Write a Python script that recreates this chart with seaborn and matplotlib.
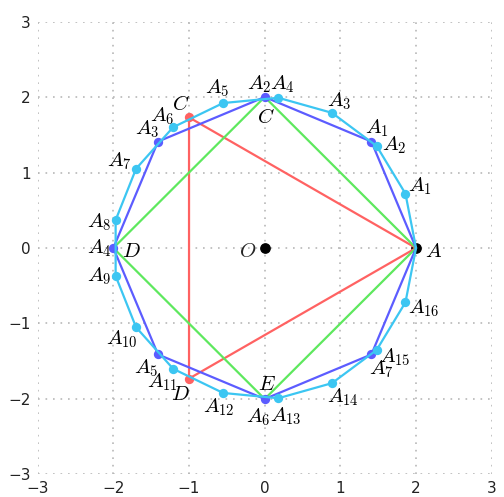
import matplotlib
matplotlib.use("Agg")
import pandas as pd
import matplotlib.pyplot as plt
import seaborn as sns

# Points
# 17-gon: A, A1 ... A16
p17_x = [2.0, 1.86, 1.48, 0.89, 0.18, -0.55, -1.21, -1.70, -1.97,
         -1.97, -1.70, -1.21, -0.55, 0.18, 0.89, 1.48, 1.86]
p17_y = [0.0, 0.72, 1.35, 1.79, 1.99, 1.92, 1.60, 1.05, 0.37,
         -0.37, -1.05, -1.60, -1.92, -1.99, -1.79, -1.35, -0.72]
p17_names = ["A"] + ["A_{%d}" % i for i in range(1, 17)]

# octagon: A, A1 ... A7
oct_x = [2.0, 1.41, 0.0, -1.41, -2.0, -1.41, 0.0, 1.41]
oct_y = [0.0, 1.41, 2.0, 1.41, 0.0, -1.41, -2.0, -1.41]
oct_names = ["A"] + ["A_{%d}" % i for i in range(1, 8)]

# square: A, C, D, E
sq_x = [2.0, 0.0, -2.0, 0.0]
sq_y = [0.0, 2.0, 0.0, -2.0]
sq_names = ["A", "C", "D", "E"]

# triangle: A, C, D
tri_x = [2.0, -1.0, -1.0]
tri_y = [0.0, 1.73, -1.73]
tri_names = ["A", "C", "D"]

ticks = [-3, -2, -1, 0, 1, 2, 3]

# label offsets in pixels (dx, dy) for each vertex label, None = no label
p17_off = [None, (3, 2), (5, -4), (-5, 6), (-8, 8), (-18, 10), (-23, 6), (-29, 2), (-29, -7),
           (-29, -6), (-30, -17), (-26, -19), (-20, -20), (-8, -23), (-5, -19), (2, -13), (3, -11)]
oct_off = [None, (-6, 8), (-18, 8), (-23, 7), (-26, -5), (-24, -19), (-19, -23), (-2, -20)]
sq_off = [(9, -9), (-8, -26), (9, -9), (-7, 9)]
tri_off = [None, (-17, 7), (-18, -21)]

sns.set_style("white")
plt.rcParams["mathtext.fontset"] = "cm"

fig = plt.figure(figsize=(5.04, 4.97), dpi=100)
ax = fig.add_axes([0.0748, 0.0453, 0.9008, 0.9114])


def draw_poly(xs, ys, color, dots, z):
    df = pd.DataFrame({"x": xs + xs[:1], "y": ys + ys[:1], "i": range(len(xs) + 1)})
    sns.lineplot(data=df, x="x", y="y", sort=False, estimator=None, color=color,
                 lw=1.6, ax=ax, zorder=z)
    if dots:
        pts = pd.DataFrame({"x": xs[1:], "y": ys[1:]})
        sns.scatterplot(data=pts, x="x", y="y", color=color, s=45, linewidth=0,
                        ax=ax, zorder=z + 0.5)


def put_labels(xs, ys, names, offs):
    for x, y, n, o in zip(xs, ys, names, offs):
        if o is None:
            continue
        ax.annotate("$%s$" % n, xy=(x, y), xytext=o, textcoords="offset pixels",
                    ha="left", va="baseline", fontsize=15, color="black", zorder=10)


# black dots A and O
ax.scatter([2.0], [0.0], s=45, color="black", zorder=1)
ax.scatter([0.0], [0.0], s=45, color="black", zorder=9)
ax.annotate("$O$", xy=(0, 0), xytext=(-26, -9), textcoords="offset pixels",
            ha="left", va="baseline", fontsize=15)

draw_poly(tri_x, tri_y, "#ff6262", True, 2)
draw_poly(sq_x, sq_y, "#5ee85e", False, 3)
draw_poly(oct_x, oct_y, "#5c5cff", True, 4)
draw_poly(p17_x, p17_y, "#3cc6f2", True, 5)

put_labels(p17_x, p17_y, p17_names, p17_off)
put_labels(oct_x, oct_y, oct_names, oct_off)
put_labels(sq_x, sq_y, sq_names, sq_off)
put_labels(tri_x, tri_y, tri_names, tri_off)

ax.set_xlim(-3, 3)
ax.set_ylim(-3, 3)
ax.set_xticks(ticks)
ax.set_yticks(ticks)
ax.set_xlabel("")
ax.set_ylabel("")
ax.grid(True, color="#b8b8b8", lw=1.2, linestyle=(0, (1, 3.5)))
ax.set_axisbelow(True)
for s in ax.spines.values():
    s.set_visible(False)
ax.tick_params(length=0, pad=5, labelsize=11, colors="#222222")

fig.savefig("out.png", dpi=100)
